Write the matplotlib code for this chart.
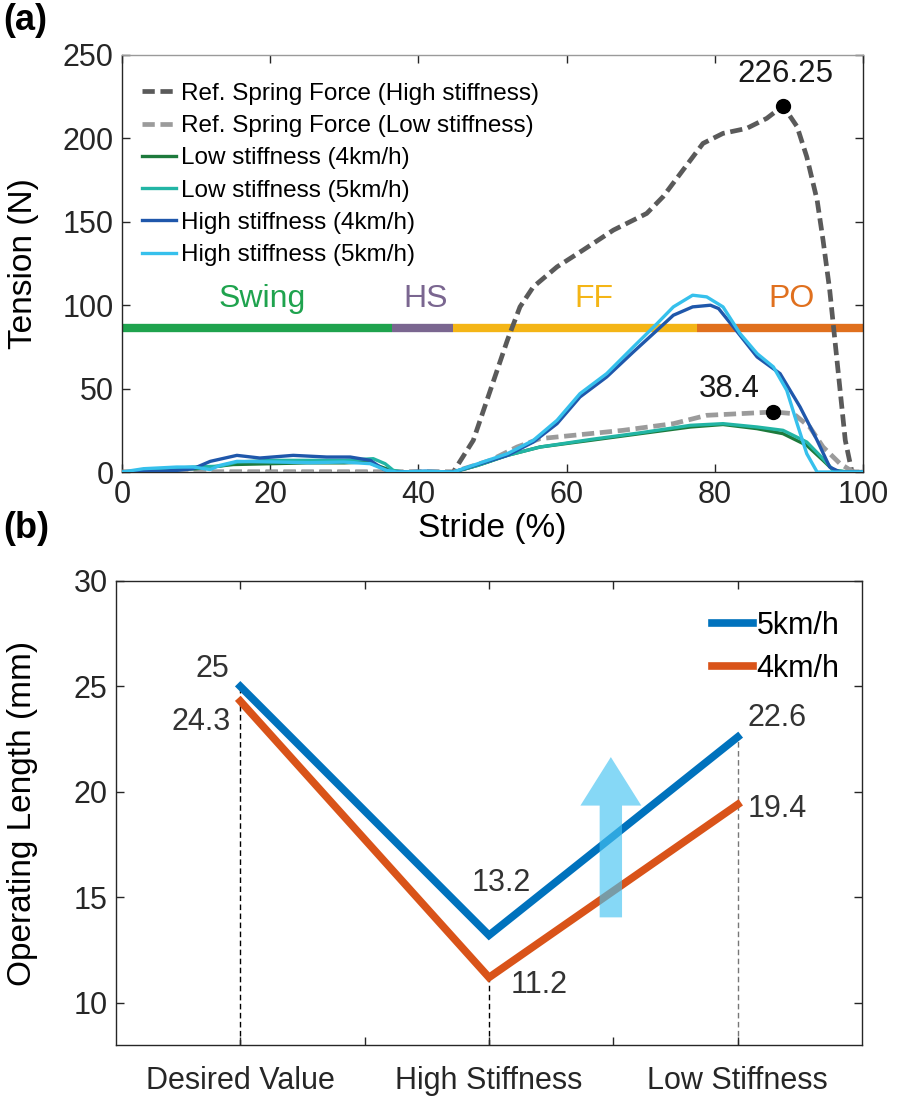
import matplotlib
matplotlib.use('Agg')
import matplotlib.pyplot as plt
from matplotlib.patches import FancyArrow

plt.rcParams['font.family'] = ['Liberation Sans', 'DejaVu Sans']

# ---------------- Panel (a) data ----------------
ref_high_x = [0, 44.7, 47.4, 49.7, 52.0, 53.7, 55.5, 58.7, 62.2, 66.3, 70.8, 73.0, 75.7, 78.4, 81.1, 84.3, 87.0, 89.2,
              91.1, 92.4, 93.8, 94.6, 95.5, 96.2, 96.9, 97.6, 98.5, 100]
ref_high_y = [0, 0, 19, 49, 79, 99, 111, 123, 133, 145, 155, 165, 181, 197, 203, 206, 212, 219.5,
              207, 189, 163, 139, 109, 79, 49, 19, 0, 0]

ref_low_x = [0, 44.7, 49.7, 53.3, 56.4, 60.9, 67.6, 74.4, 78.9, 83.4, 87.9, 90.6, 92.8, 94.6, 96.9, 98.7, 100]
ref_low_y = [0, 0, 7, 15, 20, 22, 25, 29, 34, 35, 36, 35, 27, 15, 5, 0, 0]

low4_x = [0, 5, 10, 15, 20, 25, 30, 33, 35, 36.6, 38, 44.7, 48, 52, 56.4, 63.2, 69.9, 76.7, 81.1, 85.7, 89.2,
          92.4, 94.6, 96, 98, 100]
low4_y = [0, 1, 2, 4.5, 5, 5.5, 5.5, 6, 3, 0.5, 0, 0, 4, 10, 15, 19, 23, 27, 28.5, 26, 23,
          16, 7, 1, 0, 0]

low5_x = [0, 5, 9.6, 13.2, 15.5, 20, 25, 30, 32, 33.9, 35.5, 36.6, 38, 44.7, 48, 52, 56.4, 63.2, 69.9, 76.7,
          81.1, 85.7, 89.2, 92.4, 94.6, 96, 98, 100]
low5_y = [0, 1.5, 3, 3.5, 6, 7, 7, 7, 7.5, 8, 5, 1, 0, 0, 4, 10, 15, 19.5, 23.5, 28,
          29, 27, 25, 18, 8, 1, 0, 0]

high4_x = [0, 5.1, 7.4, 9.6, 11.9, 15.5, 18.6, 23.1, 27.6, 30.8, 33.5, 35.3, 36.6, 41, 44.7, 52, 55.5, 58.7,
           61.8, 65.4, 69, 72.2, 74.4, 77, 79.4, 80.5, 82.5, 85.7, 88.8, 91.5, 93.8, 95.5, 96.9, 100]
high4_y = [0, 0.5, 1, 2, 6.4, 10, 8.4, 10, 9, 9, 7, 1.6, 0, 0.5, 0, 10, 18, 29,
           45, 57, 72, 85, 94, 99, 100, 98, 87, 69, 59, 39, 19, 3, 0, 0]

high5_x = [0, 2.9, 7.4, 9.6, 11.9, 13.2, 15.5, 20.9, 25.4, 29.9, 33.5, 35.7, 37.1, 41, 44.7, 52, 55.5, 58.7,
           61.8, 65.4, 69, 72.2, 74.4, 77, 78.9, 81.1, 83.4, 85.7, 87.9, 89.7, 91.1, 92.4, 93.8, 100]
high5_y = [0, 2, 3, 3, 1.5, 4, 6.4, 6, 5.6, 6, 5, 1, 0, 0.5, 0, 11, 19, 31,
           47, 59, 75, 89, 99, 106, 105, 99, 83, 71, 63, 49, 29, 11, 0, 0]

series_labels = ['Ref. Spring Force (High stiffness)', 'Ref. Spring Force (Low stiffness)',
                 'Low stiffness (4km/h)', 'Low stiffness (5km/h)',
                 'High stiffness (4km/h)', 'High stiffness (5km/h)']

peak_high = (89.2, 219.5)
peak_high_text = '226.25'
peak_low = (87.9, 36)
peak_low_text = '38.4'

phase_names = ['Swing', 'HS', 'FF', 'PO']
phase_bounds = [0, 36.4, 44.7, 77.6, 100]
phase_level = 86.5

# ---------------- Panel (b) data ----------------
conditions = ['Desired Value', 'High Stiffness', 'Low Stiffness']
len_5kmh = [25.0, 13.2, 22.6]
len_4kmh = [24.3, 11.2, 19.4]
len_5_text = ['25', '13.2', '22.6']
len_4_text = ['24.3', '11.2', '19.4']

# ---------------- Figure ----------------
fig = plt.figure(figsize=(8.98, 11.06), dpi=100)
spine_col = '#262626'
TICK_FS = 22

ax1 = fig.add_axes([0.1359, 0.5732, 0.8252, 0.3771])
ax1.plot(ref_high_x, ref_high_y, color='#5a5a5a', lw=3.4, dashes=(2.6, 1.2), label=series_labels[0], zorder=3)
ax1.plot(ref_low_x, ref_low_y, color='#9b9b9b', lw=3.4, dashes=(2.6, 1.2), label=series_labels[1], zorder=3)
ax1.plot(low4_x, low4_y, color='#1d7a3c', lw=2.4, label=series_labels[2], zorder=4)
ax1.plot(low5_x, low5_y, color='#22b5a5', lw=2.4, label=series_labels[3], zorder=4)
ax1.plot(high4_x, high4_y, color='#1f57ab', lw=2.4, label=series_labels[4], zorder=4)
ax1.plot(high5_x, high5_y, color='#36c0ec', lw=2.4, label=series_labels[5], zorder=5)

phase_colors = ['#1fa34e', '#7a6690', '#f4b516', '#e0701e']
phase_text_x = [18.9, 41.0, 63.7, 90.3]
for i, name in enumerate(phase_names):
    ax1.plot([phase_bounds[i], phase_bounds[i + 1]], [phase_level, phase_level], color=phase_colors[i],
             lw=6, solid_capstyle='butt', zorder=2)
    ax1.text(phase_text_x[i], 103.5, name, color=phase_colors[i], fontsize=23, ha='center', va='center')

ax1.plot(*peak_high, 'o', color='black', ms=10, zorder=6)
ax1.plot(*peak_low, 'o', color='black', ms=10, zorder=6)
ax1.text(89.5, 238.5, peak_high_text, fontsize=22.5, ha='center', va='center', color='#1a1a1a')
ax1.text(81.9, 50, peak_low_text, fontsize=22.5, ha='center', va='center', color='#1a1a1a')

ax1.set_xlim(0, 100)
ax1.set_ylim(0, 250)
ax1.set_xticks([0, 20, 40, 60, 80, 100])
ax1.set_yticks([0, 50, 100, 150, 200, 250])
ax1.tick_params(direction='in', top=True, right=True, length=6, width=1, labelsize=TICK_FS, pad=6,
                colors=spine_col)
for s in ax1.spines.values():
    s.set_color(spine_col)
    s.set_linewidth(1)
ax1.spines['top'].set_color('#9a9a9a')
ax1.set_ylabel('Tension (N)', fontsize=24)
ax1.yaxis.set_label_coords(-0.112, 0.5)
ax1.set_xlabel('Stride (%)', fontsize=24)
ax1.xaxis.set_label_coords(0.5, -0.098)
ax1.xaxis.label.set_va('top')
leg1 = ax1.legend(loc='upper left', bbox_to_anchor=(0.011, 0.962), frameon=False, fontsize=17.5,
                  handlelength=1.4, handletextpad=0.2, labelspacing=0.42, borderaxespad=0.2, borderpad=0.3)

# ---------------- Panel (b) ----------------
ax2 = fig.add_axes([0.1292, 0.0552, 0.8307, 0.4195])
xpos = [1, 2, 3]
for xi, v5, v4 in zip(xpos, len_5kmh, len_4kmh):
    col = 'black' if xi < 3 else '#777777'
    ax2.plot([xi, xi], [8, max(v5, v4) if xi != 2 else min(v5, v4)], color=col, lw=1, dashes=(4, 2.5), zorder=1)
ax2.plot(xpos, len_5kmh, color='#0072BD', lw=5.5, label='5km/h', zorder=3, solid_joinstyle='miter')
ax2.plot(xpos, len_4kmh, color='#D95319', lw=5.5, label='4km/h', zorder=3, solid_joinstyle='miter')

arrow = FancyArrow(2.49, 14.05, 0, 7.6, width=0.09, head_width=0.245, head_length=2.3,
                   length_includes_head=True, color='#46c3f2', alpha=0.65, lw=0, zorder=5)
ax2.add_patch(arrow)

ann_col = '#333333'
ANN_FS = 22
ax2.text(0.955, 25.85, len_5_text[0], fontsize=ANN_FS, ha='right', va='center', color=ann_col)
ax2.text(0.96, 23.3, len_4_text[0], fontsize=ANN_FS, ha='right', va='center', color=ann_col)
ax2.text(2.05, 15.7, len_5_text[1], fontsize=ANN_FS, ha='center', va='center', color=ann_col)
ax2.text(2.2, 10.85, len_4_text[1], fontsize=ANN_FS, ha='center', va='center', color=ann_col)
ax2.text(3.04, 23.5, len_5_text[2], fontsize=ANN_FS, ha='left', va='center', color=ann_col)
ax2.text(3.04, 19.2, len_4_text[2], fontsize=ANN_FS, ha='left', va='center', color=ann_col)

ax2.set_xlim(0.5, 3.5)
ax2.set_ylim(8, 30)
ax2.set_xticks([1, 1.5, 2, 2.5, 3])
ax2.set_xticklabels([conditions[0], '', conditions[1], '', conditions[2]])
ax2.set_yticks([10, 15, 20, 25, 30])
ax2.tick_params(direction='in', top=True, right=True, length=6, width=1, labelsize=TICK_FS, pad=6,
                colors=spine_col)
ax2.tick_params(axis='x', pad=15)
for s in ax2.spines.values():
    s.set_color(spine_col)
    s.set_linewidth(1)
ax2.set_ylabel('Operating Length (mm)', fontsize=24)
ax2.yaxis.set_label_coords(-0.104, 0.5)
ax2.legend(loc='upper right', bbox_to_anchor=(0.97, 0.935), frameon=False, fontsize=22, handlelength=1.35,
           handletextpad=0.12, labelspacing=0.42, borderaxespad=0.0, borderpad=0.0)

fig.text(0.004, 0.997, '(a)', fontsize=26, fontweight='bold', va='top', ha='left')
fig.text(0.004, 0.538, '(b)', fontsize=26, fontweight='bold', va='top', ha='left')

fig.savefig('out.png', dpi=100)
